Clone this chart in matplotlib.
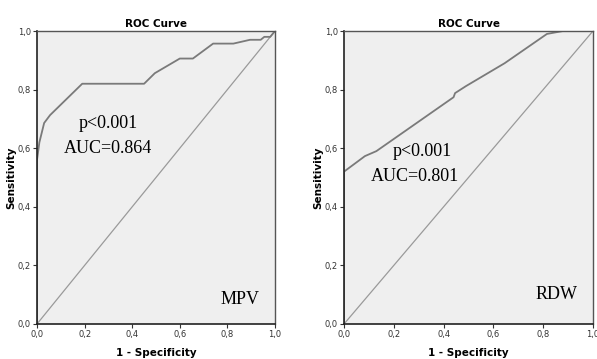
import matplotlib
matplotlib.use("Agg")
import matplotlib.pyplot as plt
from matplotlib.ticker import FixedLocator, FuncFormatter

# ── Data ──────────────────────────────────────────────────────────────────────
mpv_fpr = [0.0, 0.0, 0.01, 0.03, 0.055, 0.19, 0.45, 0.495, 0.60, 0.655,
           0.74, 0.825, 0.895, 0.94, 0.955, 0.98, 1.0]
mpv_tpr = [0.0, 0.56, 0.62, 0.686, 0.713, 0.82, 0.82, 0.856, 0.906, 0.906,
           0.957, 0.957, 0.97, 0.97, 0.98, 0.98, 1.0]

rdw_fpr = [0.0, 0.0, 0.084, 0.13, 0.44, 0.446, 0.49, 0.645, 0.815, 0.88, 1.0]
rdw_tpr = [0.0, 0.52, 0.573, 0.59, 0.774, 0.788, 0.812, 0.89, 0.99, 1.0, 1.0]

panels = [
    # (fpr, tpr, p text, auc text, marker label, text positions)
    (mpv_fpr, mpv_tpr, "p<0.001", "AUC=0.864", "MPV", (0.30, 0.685), (0.30, 0.60), (0.855, 0.085)),
    (rdw_fpr, rdw_tpr, "p<0.001", "AUC=0.801", "RDW", (0.313, 0.59), (0.285, 0.505), (0.855, 0.10)),
]
ticks = [0.0, 0.2, 0.4, 0.6, 0.8, 1.0]

W, H = 597, 359
fig = plt.figure(figsize=(W / 100, H / 100), dpi=100)
fig.patch.set_facecolor("white")

rects = [(37, 31, 238, 293), (344, 31, 249, 293)]
serif = "Liberation Serif"
comma = FuncFormatter(lambda v, _: f"{v:.1f}".replace(".", ","))

for (fpr, tpr, ptxt, auctxt, lab, ppos, apos, lpos), (x0, y0, w, h) in zip(panels, rects):
    ax = fig.add_axes([x0 / W, 1 - (y0 + h) / H, w / W, h / H])
    ax.set_facecolor("#efefef")
    ax.plot([0, 1], [0, 1], color="#9a9a9a", lw=0.9)
    ax.plot(fpr, tpr, color="#7a7a7a", lw=1.3)
    ax.set_xlim(0, 1)
    ax.set_ylim(0, 1)
    ax.xaxis.set_major_locator(FixedLocator(ticks))
    ax.yaxis.set_major_locator(FixedLocator(ticks))
    ax.xaxis.set_major_formatter(comma)
    ax.yaxis.set_major_formatter(comma)
    ax.tick_params(direction="out", length=3, width=0.8, labelsize=6, pad=1.5, colors="#333333")
    for side in ["left", "bottom"]:
        ax.spines[side].set_color("#222222")
        ax.spines[side].set_linewidth(1.2)
    for side in ["top", "right"]:
        ax.spines[side].set_color("#555555")
        ax.spines[side].set_linewidth(1.0)
    ax.set_title("ROC Curve", fontsize=7.5, fontweight="bold", pad=3)
    ax.set_xlabel("1 - Specificity", fontsize=7.5, fontweight="bold", labelpad=6)
    ax.set_ylabel("Sensitivity", fontsize=7.5, fontweight="bold", labelpad=1)
    ax.text(*ppos, ptxt, family=serif, fontsize=13, ha="center", va="center")
    ax.text(*apos, auctxt, family=serif, fontsize=13, ha="center", va="center")
    ax.text(*lpos, lab, family=serif, fontsize=13, ha="center", va="center")

fig.savefig("out.png", dpi=100)
